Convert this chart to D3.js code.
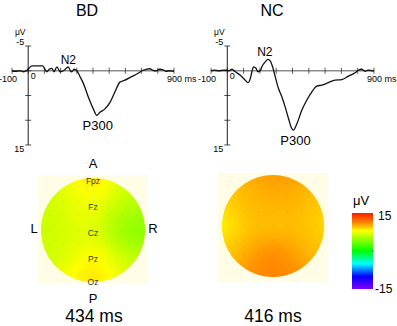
<!DOCTYPE html>
<html>
<head>
<meta charset="utf-8">
<script src="https://cdn.jsdelivr.net/npm/d3@7"></script>
<style>
  body { margin: 0; background: #fff; }
  svg { display: block; font-family: "Liberation Sans", Arial, sans-serif; }
</style>
</head>
<body>
<svg id="fig" width="397" height="326"></svg>
<script>
// ---- data ----
const groups = ["BD", "NC"];
const latencies = ["434 ms", "416 ms"];
const xTicks = [-100, 0, 100, 200, 300, 400, 500, 600, 700, 800, 900];
const yTicks = [-5, 0, 5, 10, 15];

// grand-average waveforms (ms, µV, positive down)
const bdTime = [-100, -80, -50, -30, -10, 5, 23, 60, 90, 100, 115, 130, 146, 160, 177, 197, 218, 235, 248, 260, 269, 283, 300, 320, 341, 371, 402, 423, 443, 474, 505, 535, 566, 597, 638, 679, 709, 730, 750, 770, 791, 812, 832, 852, 873, 900];
const bdUv   = [0, 0.1, 0, 0.2, 0, -0.5, -1.0, -1.0, -1.0, -0.5, 0.2, -0.3, -0.5, 0.2, -0.8, 0.2, 0, -0.5, -0.8, 0, 0.2, -0.3, 0, 1.2, 2.6, 5.3, 7.7, 9.0, 8.4, 7.7, 6.4, 4.3, 2.3, 1.9, 1.2, 0.5, -0.1, -0.3, -0.4, -0.1, 0, -0.3, -0.2, 0.1, 0, 0.1];
const ncTime = [-100, -80, -50, -20, -2, 8, 29, 49, 80, 110, 127, 141, 151, 161, 176, 188, 202, 212, 233, 249, 263, 278, 294, 314, 335, 355, 376, 396, 406, 427, 457, 488, 518, 549, 580, 620, 661, 702, 743, 784, 804, 824, 845, 865, 900];
const ncUv   = [0, -0.1, 0, -0.1, -0.1, 0, -0.3, 0.2, 0.9, 1.9, 2.4, 1.6, 0.2, -0.8, -0.5, 0.2, 0, -0.8, -1.8, -2.3, -2.0, -0.8, 1.2, 3.6, 5.3, 7.3, 9.7, 11.7, 12.0, 10.7, 8.0, 5.9, 4.3, 3.1, 2.9, 2.4, 1.9, 1.8, 1.1, 0.4, -0.1, -0.3, 0.1, -0.1, 0.1];

// scalp values at sample sites (unit head coords, x right, y down)
const siteX  = [0, -0.3, 0.35, 0, -0.5, 0.5, -0.95, -0.5, 0, 0.5, 0.95, -0.5, 0, 0.5, 0, -0.35, 0.35, 0, -0.85, 0.85, -0.8, 0.8, -0.2, 0.75];
const siteY  = [-0.95, -0.85, -0.85, -0.6, -0.55, -0.5, 0, 0, 0, 0, 0, 0.5, 0.45, 0.5, 0.95, 0.85, 0.85, 0.72, 0.5, 0.5, -0.5, -0.5, -0.3, 0.05];
const bdSite = [10, 7.5, 7.2, 7.6, 6.8, 5.8, 6.3, 6.6, 6.8, 5.6, 4.5, 6.8, 7.6, 6.6, 9, 7.8, 7.5, 9.2, 6.5, 6.2, 6.5, 6, 7.8, 3.5];
const ncSite = [11, 10.2, 10.4, 9.8, 9.8, 10, 8, 9.6, 9.4, 9.8, 8.5, 10.2, 10.6, 10.2, 11.3, 11, 11, 11.5, 9.3, 9.6, 9.2, 9.4, 10, 9.8];

const electrodes = ["Fpz", "Fz", "Cz", "Pz", "Oz"];
const electrodeY = [-0.95, -0.45, 0.05, 0.55, 1.0];

const cbarValues = [15, 11, 8, 0, -5, -10, -15];
const cbarColors = ["#ff1a00", "#ff8c00", "#ffff00", "#00ff00", "#00ffff", "#0000ff", "#7f00ff"];

// ---- layout ----
const svg = d3.select("#fig");
const panels = [
  {time: bdTime, uv: bdUv, x0: 12, x1: 174, tx: 87, site: bdSite, cx: 93, cy: 230, r: 52, sq: [38, 175, 110, 109], lab: true},
  {time: ncTime, uv: ncUv, x0: 211, x1: 374, tx: 272, site: ncSite, cx: 273, cy: 226, r: 51, sq: [218, 173, 110, 109], lab: false}
];

const color = d3.scaleLinear().domain(cbarValues).range(cbarColors).clamp(true);

panels.forEach((p, i) => {
  const x = d3.scaleLinear().domain([-100, 900]).range([p.x0, p.x1]);
  const y = d3.scaleLinear().domain([-5, 15]).range([46, 145]);
  const g = svg.append("g");

  g.append("text").attr("x", p.tx).attr("y", 16)
    .attr("text-anchor", "middle").attr("font-size", 16).text(groups[i]);

  // zero line + ticks
  g.append("line").attr("x1", x(-100)).attr("x2", x(900))
    .attr("y1", y(0)).attr("y2", y(0))
    .attr("stroke", "#8c8c8c").attr("stroke-width", 1.6);
  g.selectAll(".xt").data(xTicks).join("line")
    .attr("x1", d => x(d)).attr("x2", d => x(d))
    .attr("y1", y(0) - 3).attr("y2", y(0) + 3)
    .attr("stroke", "#333").attr("stroke-width", 0.8);

  // y axis
  g.append("line").attr("x1", x(0)).attr("x2", x(0))
    .attr("y1", y(-5)).attr("y2", y(15))
    .attr("stroke", "#222").attr("stroke-width", 1);
  g.selectAll(".yt").data(yTicks).join("line")
    .attr("x1", x(0) - 3).attr("x2", x(0) + 3)
    .attr("y1", d => y(d)).attr("y2", d => y(d))
    .attr("stroke", "#222").attr("stroke-width", 0.8);

  const small = 9;
  g.append("text").attr("x", x(0) - 8).attr("y", 35).attr("text-anchor", "middle")
    .attr("font-size", 8.5).text("\u03bcV");
  g.append("text").attr("x", x(0) - 8).attr("y", y(-5) - 1).attr("text-anchor", "middle")
    .attr("font-size", small).text("-5");
  g.append("text").attr("x", x(0) - 9).attr("y", y(15) + 7).attr("text-anchor", "middle")
    .attr("font-size", small).text("15");
  g.append("text").attr("x", x(-100) - 4).attr("y", y(0) + 11).attr("text-anchor", "middle")
    .attr("font-size", small).text("-100");
  g.append("text").attr("x", x(0) + 5).attr("y", y(0) + 8).attr("text-anchor", "middle")
    .attr("font-size", small).text("0");
  g.append("text").attr("x", x(900) - 7).attr("y", y(0) + 11)
    .attr("font-size", small).text("900 ms");

  // waveform
  const pts = p.time.map((t, k) => [t, p.uv[k]]);
  g.append("path").datum(pts)
    .attr("d", d3.line().x(d => x(d[0])).y(d => y(d[1])).curve(d3.curveMonotoneX))
    .attr("fill", "none").attr("stroke", "#111").attr("stroke-width", 1.3);

  // component labels
  const n2 = i === 0 ? 248 : 249;
  const n2v = d3.min(p.uv.filter((v, k) => p.time[k] > 150 && p.time[k] < 300));
  const pk = d3.max(p.uv);
  const pkT = p.time[p.uv.indexOf(pk)];
  g.append("text").attr("x", x(n2) - (i === 0 ? 0 : 3)).attr("y", y(n2v) - 3)
    .attr("text-anchor", "middle").attr("font-size", 12).text("N2");
  g.append("text").attr("x", x(pkT) + (i === 0 ? 1 : 2)).attr("y", y(pk) + 15)
    .attr("text-anchor", "middle").attr("font-size", 13).text("P300");

  // ---- topographic map ----
  const m = svg.append("g");
  m.append("rect").attr("x", p.sq[0]).attr("y", p.sq[1])
    .attr("width", p.sq[2]).attr("height", p.sq[3]).attr("fill", "#fffde6");
  const clipId = "clip" + i;
  svg.append("defs").append("clipPath").attr("id", clipId)
    .append("circle").attr("cx", p.cx).attr("cy", p.cy).attr("r", p.r);

  // gaussian-kernel smoothing of the site values
  const step = 2, sig2 = 2 * 0.27 * 0.27;
  const cells = [];
  for (let yy = -p.r; yy < p.r; yy += step) {
    for (let xx = -p.r; xx < p.r; xx += step) {
      const ux = (xx + step / 2) / p.r, uy = (yy + step / 2) / p.r;
      if (ux * ux + uy * uy > 1.08) continue;
      let wsum = 0, vsum = 0;
      for (let s = 0; s < siteX.length; s++) {
        const d2 = (ux - siteX[s]) ** 2 + (uy - siteY[s]) ** 2;
        const w = Math.exp(-d2 / sig2);
        wsum += w; vsum += w * p.site[s];
      }
      cells.push({x: p.cx + xx, y: p.cy + yy, v: vsum / wsum});
    }
  }
  m.append("g").attr("clip-path", `url(#${clipId})`)
    .selectAll("rect").data(cells).join("rect")
    .attr("x", d => d.x).attr("y", d => d.y)
    .attr("width", step + 0.3).attr("height", step + 0.3)
    .attr("fill", d => color(d.v));

  // faint electrode dots
  const dots = [];
  for (let a = -3; a <= 3; a++) for (let b = -3; b <= 3; b++) {
    const ux = a * 0.28, uy = b * 0.28;
    if (ux * ux + uy * uy < 0.92) dots.push([ux, uy]);
  }
  m.selectAll(".dot").data(dots).join("circle")
    .attr("cx", d => p.cx + d[0] * p.r).attr("cy", d => p.cy + d[1] * p.r)
    .attr("r", 0.45).attr("fill", "#555").attr("opacity", 0.35);

  if (p.lab) {
    m.selectAll(".el").data(electrodes).join("text")
      .attr("x", p.cx).attr("y", (d, k) => p.cy + electrodeY[k] * p.r + 3)
      .attr("text-anchor", "middle").attr("font-size", 8.5).attr("fill", "#3a3a10")
      .text(d => d);
    m.append("text").attr("x", p.cx).attr("y", 168).attr("text-anchor", "middle")
      .attr("font-size", 13).text("A");
    m.append("text").attr("x", p.cx).attr("y", 303).attr("text-anchor", "middle")
      .attr("font-size", 13).text("P");
    m.append("text").attr("x", 34).attr("y", 233).attr("text-anchor", "middle")
      .attr("font-size", 13).text("L");
    m.append("text").attr("x", 153).attr("y", 233).attr("text-anchor", "middle")
      .attr("font-size", 13).text("R");
  }
  m.append("text").attr("x", p.cx + (i === 0 ? 1 : 0)).attr("y", 322)
    .attr("text-anchor", "middle").attr("font-size", 17.5).text(latencies[i]);
});

// ---- colour bar ----
const cb = d3.scaleLinear().domain([15, -15]).range([213, 289]);
const grad = svg.append("defs").append("linearGradient")
  .attr("id", "cbar").attr("x1", 0).attr("x2", 0).attr("y1", 0).attr("y2", 1);
grad.selectAll("stop").data(cbarValues).join("stop")
  .attr("offset", d => (cb(d) - 213) / 76)
  .attr("stop-color", d => color(d));
svg.append("rect").attr("x", 352).attr("y", cb(15))
  .attr("width", 21).attr("height", cb(-15) - cb(15)).attr("fill", "url(#cbar)");
svg.append("line").attr("x1", 372).attr("x2", 374).attr("y1", cb(0)).attr("y2", cb(0))
  .attr("stroke", "#333").attr("stroke-width", 0.8);
svg.append("text").attr("x", 353).attr("y", 205).attr("font-size", 13).text("\u03bcV");
svg.append("text").attr("x", 378).attr("y", 220).attr("font-size", 12).text("15");
svg.append("text").attr("x", 375).attr("y", 293).attr("font-size", 12).text("-15");
</script>
</body>
</html>
